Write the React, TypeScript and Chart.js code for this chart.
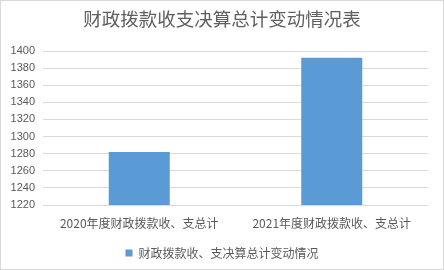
import React, { useEffect, useRef } from "react";
import { Chart, registerables } from "chart.js";

Chart.register(...registerables);

const categories = ["2020年度财政拨款收、支总计", "2021年度财政拨款收、支总计"];
const seriesName = "财政拨款收、支决算总计变动情况";
const seriesValues = [1282, 1392];
const chartTitle = "财政拨款收支决算总计变动情况表";
const yMin = 1220;
const yMax = 1400;
const yStep = 20;

const FONT = '"Liberation Sans", "Noto Sans CJK SC", sans-serif';
const CJK = '"Noto Sans CJK SC", sans-serif';
const TEXT = "#595959";
const GRID = "#D9D9D9";
const BLUE = "#5B9BD5";

const borderPlugin = {
  id: "outerBorder",
  afterDraw(chart: any) {
    const { ctx, width, height } = chart;
    ctx.save();
    ctx.strokeStyle = GRID;
    ctx.lineWidth = 1;
    ctx.strokeRect(0.5, 0.5, width - 1, height - 1);
    ctx.restore();
  },
};

export default function App() {
  const ref = useRef<HTMLCanvasElement | null>(null);
  useEffect(() => {
    document.body.style.margin = "0";
    const canvas = ref.current!;
    const chart = new Chart(canvas, {
      type: "bar",
      data: {
        labels: categories,
        datasets: [
          {
            label: seriesName,
            data: seriesValues,
            backgroundColor: BLUE,
            borderWidth: 0,
            barPercentage: 0.317,
            categoryPercentage: 1,
          },
        ],
      },
      options: {
        animation: false,
        responsive: false,
        maintainAspectRatio: false,
        layout: { padding: { left: 0, right: 0, top: 0, bottom: 1 } },
        plugins: {
          title: {
            display: true,
            text: chartTitle,
            color: "#5f5f5f",
            font: { family: FONT, size: 18.5, weight: "normal" as any, lineHeight: 1.2 },
            padding: { top: 10, bottom: 18.8 },
          },
          legend: {
            display: true,
            position: "bottom",
            labels: {
              color: TEXT,
              font: { family: CJK, size: 12 },
              boxWidth: 7,
              boxHeight: 7,
              padding: 10,
            },
          },
          tooltip: { enabled: false },
        },
        scales: {
          x: {
            grid: { display: false, drawTicks: false },
            border: { display: false },
            ticks: {
              color: TEXT,
              font: { family: CJK, size: 12 },
              padding: 11,
              maxRotation: 0,
              autoSkip: false,
            },
            afterFit(scale: any) {
              scale.height = 32;
            },
          },
          y: {
            min: yMin,
            max: yMax,
            grid: { color: GRID, lineWidth: 1, drawTicks: false },
            border: { display: false },
            ticks: {
              stepSize: yStep,
              color: TEXT,
              font: { family: FONT, size: 11 },
              padding: 8,
              callback: (v: any) => String(v),
            },
            afterFit(scale: any) {
              scale.width = 43;
            },
          },
          yRightSpacer: {
            position: "right",
            display: true,
            grid: { display: false, drawTicks: false },
            border: { display: false },
            ticks: { display: false },
            afterFit(scale: any) {
              scale.width = 16;
            },
          },
        },
      },
      plugins: [borderPlugin],
    });
    return () => chart.destroy();
  }, []);
  return <canvas ref={ref} width={444} height={270} style={{ display: "block" }} />;
}
